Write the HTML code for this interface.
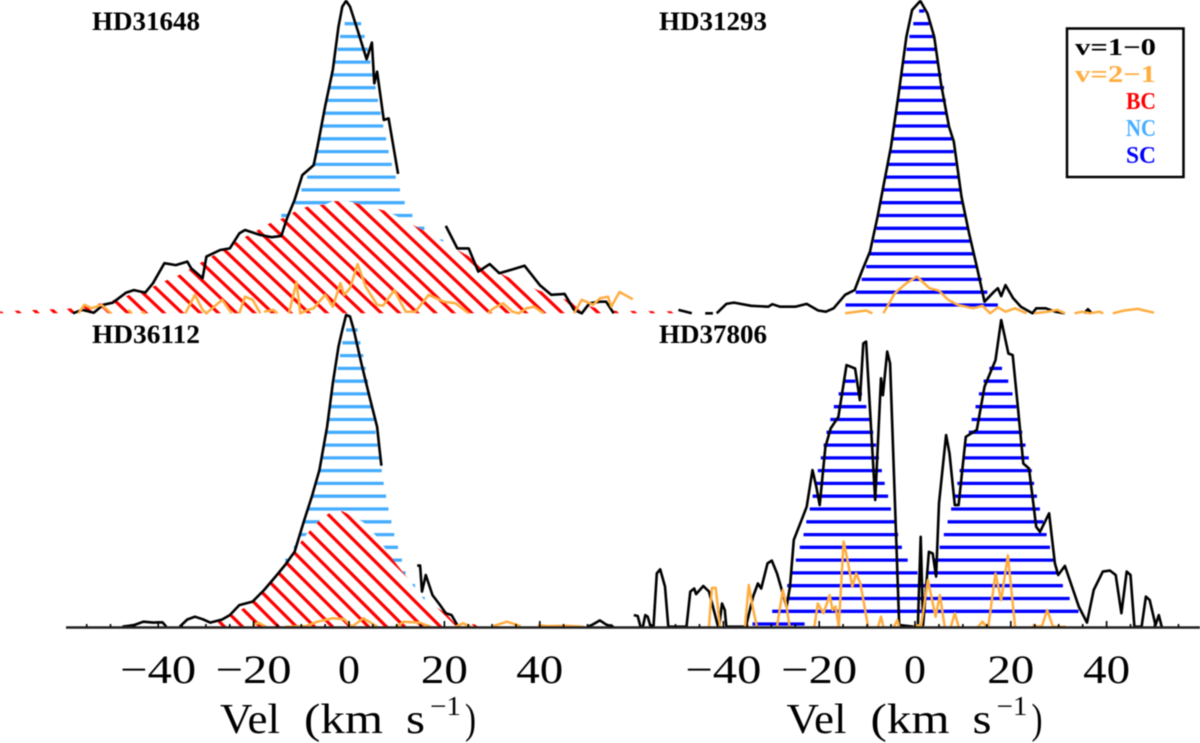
<!DOCTYPE html>
<html lang="en">
<head>
<meta charset="utf-8">
<title>Line profiles</title>
<style>
html,body{margin:0;padding:0;background:#fff}
svg{display:block;filter:blur(0.45px)}
.tick{font-family:"Liberation Serif",serif;font-size:40px;text-anchor:middle;fill:#000}
.axt{font-family:"Liberation Serif",serif;font-size:42px;fill:#000}
.axs{font-family:"Liberation Serif",serif;font-size:27px;fill:#000}
.star{font-family:"Liberation Serif",serif;font-weight:bold;font-size:26px;fill:#000}
.leg{font-family:"Liberation Serif",serif;font-weight:bold;font-size:24px}
</style>
</head>
<body>
<svg id="chart" xmlns="http://www.w3.org/2000/svg" width="1200" height="743" viewBox="0 0 1200 743">
<rect width="1200" height="743" fill="#fff"/>
<g id="marks"></g>
<g id="axis"></g>
<text class="star" x="92" y="30" textLength="108" lengthAdjust="spacingAndGlyphs">HD31648</text>
<text class="star" x="659" y="30" textLength="108" lengthAdjust="spacingAndGlyphs">HD31293</text>
<text class="star" x="92" y="343" textLength="108" lengthAdjust="spacingAndGlyphs">HD36112</text>
<text class="star" x="659" y="343" textLength="108" lengthAdjust="spacingAndGlyphs">HD37806</text>
<g>
<rect x="1067" y="28.5" width="116.5" height="148.5" fill="#fff" stroke="#000" stroke-width="2.5"/>
<text class="leg" x="1075" y="55" fill="#000" textLength="81" lengthAdjust="spacingAndGlyphs">v=1−0</text>
<text class="leg" x="1075" y="82" fill="#ffad40" textLength="81" lengthAdjust="spacingAndGlyphs">v=2−1</text>
<text class="leg" x="1126" y="109" fill="#ff0000" textLength="30" lengthAdjust="spacingAndGlyphs">BC</text>
<text class="leg" x="1126" y="136" fill="#45adff" textLength="30" lengthAdjust="spacingAndGlyphs">NC</text>
<text class="leg" x="1126" y="163" fill="#0000ff" textLength="30" lengthAdjust="spacingAndGlyphs">SC</text>
</g>
<g>
<text class="axt" x="220" y="733" textLength="60" lengthAdjust="spacingAndGlyphs">Vel</text>
<text class="axt" x="304" y="733" textLength="79" lengthAdjust="spacingAndGlyphs">(km</text>
<text class="axt" x="406" y="733" textLength="19" lengthAdjust="spacingAndGlyphs">s</text>
<text class="axs" x="430" y="715" textLength="31" lengthAdjust="spacingAndGlyphs">−1</text>
<text class="axt" x="465" y="733" textLength="11" lengthAdjust="spacingAndGlyphs">)</text>
</g>
<g>
<text class="axt" x="786.5" y="733" textLength="60" lengthAdjust="spacingAndGlyphs">Vel</text>
<text class="axt" x="870.5" y="733" textLength="79" lengthAdjust="spacingAndGlyphs">(km</text>
<text class="axt" x="972.5" y="733" textLength="19" lengthAdjust="spacingAndGlyphs">s</text>
<text class="axs" x="996.5" y="715" textLength="31" lengthAdjust="spacingAndGlyphs">−1</text>
<text class="axt" x="1031.5" y="733" textLength="11" lengthAdjust="spacingAndGlyphs">)</text>
</g>
</svg>
<script>
const tickLabels = [-40, -20, 0, 20, 40];
const minorTicks = [-55,-50,-45,-40,-35,-30,-25,-20,-15,-10,-5,0,5,10,15,20,25,30,35,40,45,50,55];

const p1BlackVel = [-57.9,-55.9,-53.5,-51.5,-49.5,-46.7,-45.1,-42.7,-41.1,-38.7,-36.3,-33.9,-33.1,-30.7,-29.9,-27,-25,-23,-21.8,-18.6,-16.2,-14.2,-13,-11.4,-9.8,-7.4,-6.6,-5,-3.4,-2.2,-1.4,-0.6,0.2,1.8,3.7,4.8,5.3,5.9,7.3,8.3,10.3,null,20.3,22.7,25.1,27.1,29.5,31.5,34.3,36.8,40,42.4,45.2,47.2,48.8,50.4,52.6,53.9,55.5];
const p1BlackFlux = [0,1.1,0.2,2.7,3.4,6.6,7.4,6.6,9.6,16,15.4,16.5,14.4,11.2,18.1,20.2,20.7,25.5,26.6,25,24.3,24.7,30.3,36.2,44.1,47.3,53.2,66,77.7,91.5,97.9,99.7,97.9,90.4,81.1,86.4,73.4,77.1,61.7,62.2,44.5,null,27.9,20.7,20.7,13.3,15.7,12.8,14,15.2,9,5.9,6.2,1.1,0,3.2,3.7,3.7,0];
const p1OrangeVel = [-56.7,-55.5,-53.9,-51.9,-49.9,null,-46.3,-45.5,null,-43.5,-42.7,null,-34.3,-32.3,-30.7,-29.9,-26.6,-24.6,null,-23,-21.8,-20.2,-18.6,null,-17.8,-15.8,-15,null,-12.6,-11,-10.2,-8.6,-7.4,-5,-3.4,-1.8,-1,0.2,1.8,3.5,5.9,7.1,9.5,11.1,11.9,13.9,16.7,19.9,22.3,25.1,null,29.1,30.3,32.3,34.3,35.6,37.2,38.8,40.8,null,47.2,48.8,51.2,52.6,54.3,55,56.7,59.5];
const p1OrangeFlux = [0,2.7,1.6,2.7,0,null,1.1,0,null,0.5,0,null,0,5.9,1.1,0,4.3,0,null,0,5.3,4.3,0,null,0.5,1.1,0,null,0,10,0,1.1,1.6,5.9,2.1,9.6,5.9,8,15.7,8.5,2.7,2.4,7.4,2.7,0.5,0.5,5.9,3.7,3.2,0,null,0,1.6,3.2,0.5,0,1.6,2.1,0,null,0,4.3,2.7,4.8,5.3,2.1,6.8,4.5];
const p1NcVel = [-24,-14.2,-11.4,-10,-8.8,-7.7,-7.1,-6.4,-5.9,-5.3,-4.7,-4.2,-3.7,-3,-2.4,-1.9,-1,0.8,2.6,3.3,4,4.5,5.1,5.6,6.1,6.7,7.2,7.8,8.3,9,9.8,10.7,11.7,13.3,15.9,19.9,28];
const p1NcFlux = [10,31.2,35.2,39.3,43.4,47.4,51.6,55.6,59.6,63.7,67.8,71.9,76,80.1,84.1,88.2,92.3,95.5,92.3,88.2,84.1,80.1,76,71.9,67.8,63.7,59.6,55.6,51.6,47.4,43.4,39.3,35.2,31.2,27,22.9,10];
const p1BcVel = [-73.2,-58.7,-51.9,-49.1,-45.9,-43.1,-40.7,-38.3,-35.5,-33.1,-30.7,-25.8,-23.8,-21,-18.6,-16.2,-13.4,-11,-8.2,-5,-3.4,-0.2,2.6,7.9,9.9,15.1,19.9,24.3,32.7,39.6,45.2,52,55.2,71.1];
const p1BcFlux = [0.6,1.5,3.2,4.3,5.9,7,8.8,10.5,12.3,14.4,16.5,20.7,22.8,25,27,29.1,30.6,32.8,34.3,34.7,35.8,35.8,34.7,32.6,31.1,26.8,22.7,18.9,12,7.4,4.5,1.6,0.8,0.6];

const p2BlackVel = [-49.4,-46.6,null,-43.8,-42.2,null,-41.4,-39.4,-37.8,-34.2,-30.6,-29.8,-28.2,-25,-22.6,-20.2,-18.6,-17,-14.6,-12.6,-11,-9.4,-7.8,-5,-3.4,-1.8,-0.6,1.1,2.6,4,5.4,7.1,8.1,9.7,11.3,12.9,14.5,16.5,17.3,18,18.9,20.5,22.1,24.5,25.3,27.3,29.3,31.3,null,35.3,36.1,36.9];
const p2BlackFlux = [1.1,0,null,0,0,null,0,3,3.4,2.4,2.1,2.9,2.1,2.1,3,0.9,0.5,1.6,5.9,7.4,13.8,19.7,30.9,53.2,70.2,88.3,96.8,99.7,95.7,88.3,73.4,59.6,54.8,37.2,25.5,14.9,3.7,6.9,8,5.5,9,4.8,2.1,0,1.6,1.6,0.5,0,null,0,1.3,0];
const p2OrangeVel = [-14.6,-12.2,-10.2,-8.9,null,-6.6,-4.2,-1.8,0.4,3,5,6.9,8.9,12.1,14.1,15.7,17.3,18.9,20.9,23.3,null,24.9,27.7,29.7,31.3,null,33.3,34.9,36.5,38.5,39.3,null,41.3,43.7,46.5,49.9];
const p2OrangeFlux = [0,0.5,0.9,0,null,0,6.4,9.6,11.7,8,7.2,4.3,2.7,1.6,2.4,0,1.9,0.5,1.6,0,null,0,0.5,1.1,0,null,0,0.5,0,0.5,0,null,0,0.9,1.4,0.2];
const p2ScVel = [-15,-14.5,-12.4,-11.1,-10.2,-9.5,-8.6,-7.5,-6.6,-5.7,-4.9,-4.1,-3.2,-2.4,-1.2,-0.4,0.8,1.4,2,3,4,5,6.1,6.8,7.7,8.5,9.5,10.3,10.9,11.5,12.1,12.8,13.9,15.1,17.3,18];
const p2ScFlux = [0,2.7,6.7,10.9,14.9,18.9,23,31.2,39.3,47.4,55.6,63.7,71.9,80.1,88.2,92.3,96.4,97.5,96.4,92.3,88.2,80.1,71.9,63.7,55.6,47.4,39.3,31.2,27,23,18.9,14.9,10.9,6.7,2.7,0];

const p3BlackVel = [-47.5,-45.1,-43.1,-41.1,-39.1,-38.3,null,-35.5,-33.9,-32.3,-30.7,-29.1,-26.6,-25,-23,-20.2,-17.8,-15.4,-13.4,-11.4,-9.4,-7.8,-6.2,-4.6,-3.4,-2.2,-1.4,-0.6,0.2,1,2.6,4.3,5.9,6.5,6.8,null,14.3,14.9,15.3,16.1,17.5,19.1,20.3,21.5,22.7,null,50,51,52.6,54,55.5];
const p3BlackFlux = [0,0.5,1.6,1.3,1.4,0,null,0,2.3,3.2,2.4,1.3,2.3,3.7,6.9,8,11.7,16,19.7,23.9,34,41.5,50,63.8,77.7,89.4,94.7,99.5,99,94.7,84,73.4,63.8,55.3,51.4,null,19.5,19.5,11.2,16.5,10.1,6.9,4.3,3.7,0.5,null,0,0.6,2,0.6,0];
const p3OrangeVel = [-20.2,-19,-17.4,null,-13.4,-9,-6.6,-3.4,-1,0.6,3,5.9,null,9.9,11.5,14.7,17.1,null,22.3,23.9,25.5,null,30.3,33.1,36,null,39.6,41.6,45.6,49.2];
const p3OrangeFlux = [0.5,1.3,0,null,0,0.2,1.6,2.7,2.4,0,2.7,0,null,0,1.6,1.3,0,null,0,1.1,0,null,0.2,1.6,0.2,null,0.5,0.2,0.3,0];
const p3NcVel = [-16,-13.4,-11.6,-10.2,-9.4,-8.5,-6.9,-5.8,-4.8,-4,-3,-2.4,-1.4,-0.6,0.5,1.8,2.4,3,4,4.9,5.6,6.5,7.3,8.3,9.5,10.3,11.1,11.9,13.9,15.9,17];
const p3NcFlux = [12,21.2,25.2,29.3,33.4,37.4,45.5,53.7,61.9,70,78.3,82.3,90.6,94.7,96.5,94.7,90.6,86.5,78.3,70,61.9,53.7,45.5,37.4,29.3,25.2,21.2,17,13,9,7];
const p3BcVel = [-28.7,-27.4,-24.6,-22.2,-20.2,-18.2,-16.4,-14.6,-13,-11,-9,-6.6,-4.2,-1.4,3,5.5,7.5,9.3,11.5,13.5,15.5,20.3,22.3,26.3,27.1];
const p3BcFlux = [0,1.6,3.7,5.8,8,11.2,13.8,17.2,21.2,25.2,29.3,33.4,36.2,36.9,33.4,29.3,25.2,21.2,17,13,9,4.3,0.9,0.8,0];

const p4BlackVel = [-58.7,-57.9,-57.3,-56.8,-56.3,-55.8,-55.2,-54.6,-53.9,-53.2,-52.2,-51.5,-47.7,-46.9,-46.1,-45.7,-44.2,-43,-41.1,-40.9,-40.3,-39.7,-39.4,-35.3,-33.8,-32.8,-32.1,-30.8,-29.9,-28.8,-26.8,-26.1,-25.3,-23.7,-22.6,-21.4,-20.6,-19.9,-18.7,-17.6,-16,-14.3,-12.5,-11.5,-10.8,-10.2,-8.3,-7.1,-6.7,-5.8,-5.2,-3.3,-0.2,0.6,1.2,1.7,2.9,3.7,4.4,5,6.5,7.2,8.3,9.1,10.6,12.9,14.5,16.8,18,19.5,20.4,21.4,22.6,23.8,25.3,26.1,28,29.2,29.9,31.3,34.2,35.9,37.3,39.2,40.7,41.9,43.1,44.2,45,45.8,47.3,48.2,49,50.2,50.9,51.5];
const p4BlackFlux = [3.7,3.4,0,0,3.7,3.2,0,0,17,18.3,12.8,0,0,11.2,12.2,10.4,13,11.2,0,0,7.4,5.3,0,0,9.6,13.8,12.2,20.2,21.1,17,6.4,12.8,27.7,34,38.3,50,44.7,38.8,57.4,63.3,67,83.5,82.4,72.3,90.4,91,40.4,79.3,73.9,87.8,84,0.5,0,0.5,28.7,0.5,23.9,23.4,16,39.4,61.2,55.3,38.8,38.8,60.6,62.8,76.6,85.1,97.9,87.2,86.7,71.3,52.1,50.5,31.9,30.3,36.2,20.2,16.5,19.4,6.4,1.3,11.7,17.6,17.9,16.5,4.3,17.6,16.5,0,0,9.6,8.5,0.5,3.7,0];
const p4OrangeVel = [-43,-42.4,-41.6,-40.7,null,-35.5,-34.7,-33.9,-33,null,-28.8,-27.6,-26.8,-26.2,null,-21,-20.3,-19.1,-17.8,-17.2,-16.6,-15.9,-14.9,-14.1,-13.1,-12.3,-11.4,-9.8,null,-7.7,-7.1,-6.6,null,-4.4,-3.7,-3.3,null,-0.3,0.8,1.3,2.7,4.3,5.2,6.2,null,7.5,8.3,9.1,null,13.2,14.1,14.9,15.3,16.8,18,19.4,20.9,null,24.5,25.7,26.5,27.6,28.8,31.5];
const p4OrangeFlux = [0,12.4,12.4,0,null,0,13.3,6.4,0,null,0,11.7,6.4,0,null,0,7.4,4.3,10.1,5.3,6.4,0,27.2,21.3,12.8,17,13.8,0,null,0,3.2,0,null,0,2.1,0,null,0,0.5,0.5,14.9,3.2,10.1,0,null,0,4.3,0,null,0,1.6,0,0,17,8.5,22.8,0,null,0.5,0,0.2,5.3,0,0];
const p4ScVel = [-29.9,-26.8,-26.7,-25.7,-24.9,-24.1,-23.3,-22.7,-22,-21.4,-20.9,-20.3,-19.7,-19.1,-18.5,-17.7,-17,-16,-14.7,-13.5,-12.4,-11,-10.1,-9.5,-8.7,-8.1,-7.5,-6.9,-6.3,-5.6,-5,-4.2,-3.5,-2.7,-1.5,0.6,1.3,2.2,4,5.1,6,6.8,7.5,8.3,8.8,9.3,9.9,10.6,11.2,11.8,12.6,13.3,14.3,15.5,16.8,18.2,19.5,20.4,21.2,21.8,22.4,23.1,23.8,24.4,24.9,25.5,26.1,26.8,27.5,28.2,28.9,29.8,30.9,32.3,34.2];
const p4ScFlux = [4.8,9,13,17,21.2,25.2,29.3,33.4,37.4,41.5,45.5,49.7,53.7,57.8,61.9,66,70,74.1,78.3,80,78.3,74.1,70,66,61.9,57.8,53.7,49.7,45.5,41.5,37.4,33.4,29.3,25.2,21.2,17,15,17,21.2,25.2,29.3,33.4,37.4,41.5,45.5,49.7,53.7,57.8,61.9,66,70,74.1,78.3,82.4,84,82.4,78.3,74.1,70,66,61.9,57.8,53.7,49.7,45.5,41.5,37.4,33.4,29.3,25.2,21.2,17,13,9,4.8];
const p4WingVel = [-34,-33.8,-23.1,-23];
const p4WingFlux = [0,2,2,0];

const SVGNS = 'http://www.w3.org/2000/svg';
const marks = document.getElementById('marks');
const axisGroup = document.getElementById('axis');
const BLACK = '#000', ORANGE = '#ffad40', RED = '#ff0000', NC = '#45adff', SC = '#0000ff';
const LEVEL_STEP = 4.08;
const FLUX_PX = 3.133;

function xLeft(v) { return 349 + 4.77 * v; }
function xRight(v) { return 915 + 4.79 * v; }
function yFor(base) { return function (f) { return base - f * FLUX_PX; }; }

function linePath(xs, ys, fx, fy) {
  let d = '', pen = false;
  for (let i = 0; i < xs.length; i++) {
    if (xs[i] === null) { pen = false; continue; }
    d += (pen ? 'L' : 'M') + fx(xs[i]).toFixed(1) + ' ' + fy(ys[i]).toFixed(1);
    pen = true;
  }
  return d;
}

function drawLine(parent, vel, flux, fx, fy, color, width, name) {
  const p = document.createElementNS(SVGNS, 'path');
  p.setAttribute('d', linePath(vel, flux, fx, fy));
  p.setAttribute('fill', 'none');
  p.setAttribute('stroke', color);
  p.setAttribute('stroke-width', width);
  p.setAttribute('stroke-linejoin', 'round');
  
  
  parent.appendChild(p);
}

function crossings(vel, flux, level) {
  const out = [];
  let start = flux[0] >= level ? vel[0] : null;
  for (let i = 1; i < vel.length; i++) {
    const a = flux[i - 1], b = flux[i];
    if (a < level && b >= level) {
      start = vel[i - 1] + (level - a) / (b - a) * (vel[i] - vel[i - 1]);
    } else if (a >= level && b < level) {
      out.push([start, vel[i - 1] + (level - a) / (b - a) * (vel[i] - vel[i - 1])]);
      start = null;
    }
  }
  if (start !== null) out.push([start, vel[vel.length - 1]]);
  return out;
}

function drawLevels(parent, vel, flux, fx, fy, color, base, minFlux, maxFlux, name) {
  for (let lv = base; lv <= maxFlux; lv += LEVEL_STEP) {
    if (lv < minFlux) continue;
    crossings(vel, flux, lv).forEach(function (seg) {
      const l = document.createElementNS(SVGNS, 'line');
      l.setAttribute('x1', fx(seg[0]).toFixed(1));
      l.setAttribute('x2', fx(seg[1]).toFixed(1));
      l.setAttribute('y1', fy(lv).toFixed(1));
      l.setAttribute('y2', fy(lv).toFixed(1));
      l.setAttribute('stroke', color);
      l.setAttribute('stroke-width', 3.3);
      
      
      parent.appendChild(l);
    });
  }
}

function drawBroad(parent, id, vel, flux, fx, fy, base, px, py, slope, spacing) {
  let pts = fx(vel[0]).toFixed(1) + ',' + base + ' ';
  vel.forEach(function (v, i) { pts += fx(v).toFixed(1) + ',' + fy(flux[i]).toFixed(1) + ' '; });
  pts += fx(vel[vel.length - 1]).toFixed(1) + ',' + base;
  const cp = document.createElementNS(SVGNS, 'clipPath');
  cp.setAttribute('id', id);
  const cpPoly = document.createElementNS(SVGNS, 'polygon');
  cpPoly.setAttribute('points', pts);
  cp.appendChild(cpPoly);
  parent.appendChild(cp);
  const fill = document.createElementNS(SVGNS, 'polygon');
  fill.setAttribute('points', pts);
  fill.setAttribute('fill', '#fff');
  
  
  parent.appendChild(fill);
  const g = document.createElementNS(SVGNS, 'g');
  g.setAttribute('clip-path', 'url(#' + id + ')');
  
  
  for (let k = -50; k <= 50; k++) {
    const x0 = px + k * spacing;
    const top = base - 140;
    const l = document.createElementNS(SVGNS, 'line');
    l.setAttribute('x1', (x0 + (top - py) / slope).toFixed(1));
    l.setAttribute('y1', top);
    l.setAttribute('x2', (x0 + (base + 5 - py) / slope).toFixed(1));
    l.setAttribute('y2', base + 5);
    l.setAttribute('stroke', RED);
    l.setAttribute('stroke-width', 3.2);
    g.appendChild(l);
  }
  parent.appendChild(g);
}

const baseTop = 313.3, baseBot = 626.7;
const yTop = yFor(baseTop), yBot = yFor(baseBot);

/* HD31648 */
drawLevels(marks, p1NcVel, p1NcFlux, xLeft, yTop, NC, 2.66, 0, 100, 'hd31648-narrow-component');
drawBroad(marks, 'clipP1', p1BcVel, p1BcFlux, xLeft, yTop, baseTop, 334.7, 200, 0.95, 18.1);
drawLine(marks, p1BlackVel, p1BlackFlux, xLeft, yTop, BLACK, 2.6, 'hd31648-v1-0-line');
drawLine(marks, p1OrangeVel, p1OrangeFlux, xLeft, yTop, ORANGE, 2.5, 'hd31648-v2-1-line');

/* HD31293 */
drawLevels(marks, p2ScVel, p2ScFlux, xRight, yTop, SC, 2.66, 0, 100, 'hd31293-single-component');
drawLine(marks, p2BlackVel, p2BlackFlux, xRight, yTop, BLACK, 2.6, 'hd31293-v1-0-line');
drawLine(marks, p2OrangeVel, p2OrangeFlux, xRight, yTop, ORANGE, 2.5, 'hd31293-v2-1-line');

/* HD36112 */
drawLevels(marks, p3NcVel, p3NcFlux, xLeft, yBot, NC, 0.85, 0, 100, 'hd36112-narrow-component');
drawBroad(marks, 'clipP3', p3BcVel, p3BcFlux, xLeft, yBot, baseBot, 331.7, 500, 1.0, 18);
drawLine(marks, p3BlackVel, p3BlackFlux, xLeft, yBot, BLACK, 2.6, 'hd36112-v1-0-line');
drawLine(marks, p3OrangeVel, p3OrangeFlux, xLeft, yBot, ORANGE, 2.5, 'hd36112-v2-1-line');

/* HD37806 */
drawLevels(marks, p4ScVel, p4ScFlux, xRight, yBot, SC, 0.85, 3, 100, 'hd37806-single-component');
drawLevels(marks, p4WingVel, p4WingFlux, xRight, yBot, SC, 0.85, 0, 1.5, 'hd37806-single-component-wing');
drawLine(marks, p4BlackVel, p4BlackFlux, xRight, yBot, BLACK, 2.6, 'hd37806-v1-0-line');
drawLine(marks, p4OrangeVel, p4OrangeFlux, xRight, yBot, ORANGE, 2.5, 'hd37806-v2-1-line');

/* Axis */
const axisLine = document.createElementNS(SVGNS, 'line');
axisLine.setAttribute('x1', 66);
axisLine.setAttribute('x2', 1200);
axisLine.setAttribute('y1', 627.5);
axisLine.setAttribute('y2', 627.5);
axisLine.setAttribute('stroke', '#222');
axisLine.setAttribute('stroke-width', 2.4);


axisGroup.appendChild(axisLine);

[xLeft, xRight].forEach(function (fx) {
  minorTicks.forEach(function (v) {
    const major = v % 20 === 0;
    const t = document.createElementNS(SVGNS, 'line');
    t.setAttribute('x1', fx(v).toFixed(1));
    t.setAttribute('x2', fx(v).toFixed(1));
    t.setAttribute('y1', 627);
    t.setAttribute('y2', major ? 621 : 624);
    t.setAttribute('stroke', '#000');
    t.setAttribute('stroke-width', 1.6);
    
    
    axisGroup.appendChild(t);
  });
  tickLabels.forEach(function (v) {
    const label = (v < 0 ? '\u2212' : '') + Math.abs(v);
    const t = document.createElementNS(SVGNS, 'text');
    t.setAttribute('class', 'tick');
    t.setAttribute('x', fx(v).toFixed(1));
    t.setAttribute('y', 683);
    t.setAttribute('textLength', label.length === 3 ? 76 : (label.length === 2 ? 47 : 22));
    t.setAttribute('lengthAdjust', 'spacingAndGlyphs');
    
    
    t.textContent = label;
    axisGroup.appendChild(t);
  });
});
</script>
</body>
</html>
